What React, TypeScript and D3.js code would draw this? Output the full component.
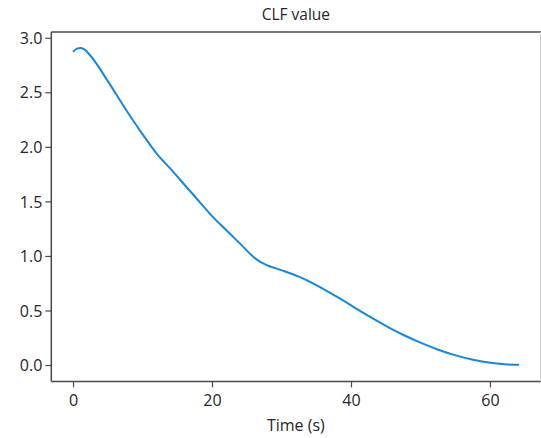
import React from "react";
import * as d3 from "d3";

const timeValues = [0, 0.5, 1, 1.5, 2.5, 5, 7.5, 10, 12, 14, 16, 18, 20, 22, 24, 26, 27, 28, 30, 32.5, 35, 37.5, 40, 42.5, 45, 47.5, 50, 52.5, 55, 57.5, 60, 62, 64];
const clfValues = [2.88, 2.905, 2.912, 2.9, 2.835, 2.6, 2.35, 2.115, 1.94, 1.8, 1.655, 1.51, 1.365, 1.24, 1.115, 0.99, 0.945, 0.915, 0.872, 0.812, 0.735, 0.645, 0.55, 0.452, 0.362, 0.28, 0.207, 0.145, 0.093, 0.053, 0.025, 0.012, 0.006];
const xTicks = [0, 20, 40, 60];
const yTicks = [0.0, 0.5, 1.0, 1.5, 2.0, 2.5, 3.0];
const title = "CLF value";
const xLabel = "Time (s)";

const W = 541;
const H = 438;
const left = 51.3;
const right = 540.5;
const top = 32;
const bottom = 381.4;
const font = "'Open Sans', 'Noto Sans', sans-serif";
const textColor = "#262626";
const spineColor = "#4a4a4a";

export default function App() {
  const tMin = d3.min(timeValues)!;
  const tMax = d3.max(timeValues)!;
  const vMin = d3.min(clfValues)!;
  const vMax = d3.max(clfValues)!;
  const tPad = (tMax - tMin) * 0.05;
  const vPad = (vMax - Math.min(0, vMin)) * 0.05;
  const x = d3.scaleLinear().domain([tMin - tPad, tMax + tPad]).range([left, right]);
  const y = d3.scaleLinear().domain([Math.min(0, vMin) - vPad, vMax + vPad]).range([bottom, top]);
  const data = timeValues.map((t, i) => [t, clfValues[i]] as [number, number]);
  const line = d3
    .line<[number, number]>()
    .x((d) => x(d[0]))
    .y((d) => y(d[1]))
    .curve(d3.curveMonotoneX);

  return (
    <svg
      width={W}
      height={H}
      style={{ position: "absolute", left: 0, top: 0, background: "#fff" }}
      fontFamily={font}
    >
      <rect x={0} y={0} width={W} height={H} fill="#fff" />
      <text x={(left + right) / 2} y={15} dy="0.35em" textAnchor="middle" fontSize={15.5} fill={textColor}>
        {title}
      </text>
      <path d={line(data) || ""} fill="none" stroke="#1a86d8" strokeWidth={2} strokeLinejoin="round" strokeLinecap="round" />
      {/* spines */}
      <line x1={left} x2={left} y1={top} y2={bottom} stroke={spineColor} strokeWidth={1.5} />
      <line x1={left} x2={W} y1={bottom} y2={bottom} stroke={spineColor} strokeWidth={1.5} />
      <line x1={left} x2={W} y1={top} y2={top} stroke={spineColor} strokeWidth={1.5} />
      <line x1={right} x2={right} y1={top} y2={bottom} stroke="#d0d0d0" strokeWidth={1} />
      {yTicks.map((v) => (
        <g key={"y" + v}>
          <line x1={left - 6} x2={left} y1={y(v)} y2={y(v)} stroke={spineColor} strokeWidth={1.2} />
          <text x={left - 9} y={y(v)} dy="0.35em" textAnchor="end" fontSize={16} fill={textColor}>
            {v.toFixed(1)}
          </text>
        </g>
      ))}
      {xTicks.map((t) => (
        <g key={"x" + t}>
          <line x1={x(t)} x2={x(t)} y1={bottom} y2={bottom + 6} stroke={spineColor} strokeWidth={1.2} />
          <text x={x(t)} y={bottom + 19} dy="0.35em" textAnchor="middle" fontSize={16} fill={textColor}>
            {t}
          </text>
        </g>
      ))}
      <text x={(left + right) / 2} y={425} dy="0.35em" textAnchor="middle" fontSize={16} fill={textColor}>
        {xLabel}
      </text>
    </svg>
  );
}
